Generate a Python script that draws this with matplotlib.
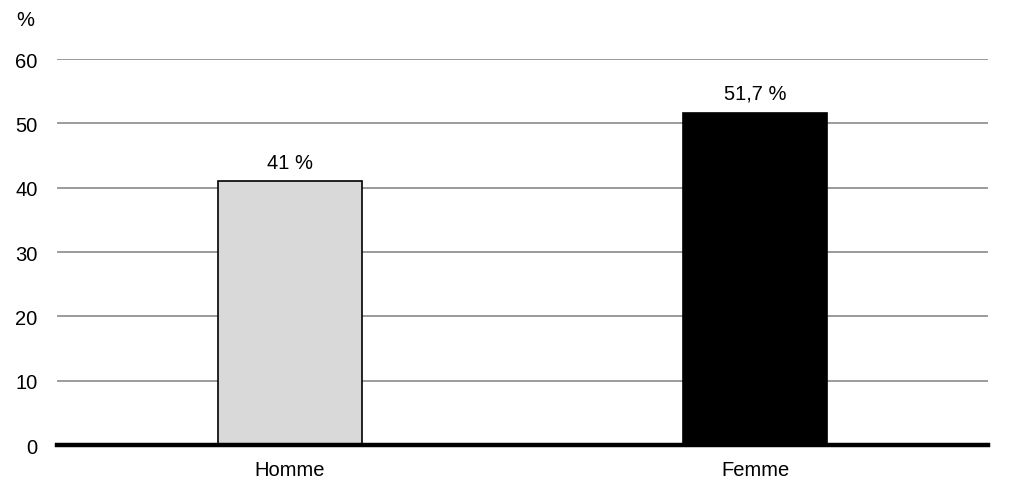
import matplotlib
matplotlib.use("Agg")
import matplotlib.pyplot as plt

# data
categories = ['Homme', 'Femme']
values = [41, 51.7]
labels = ['41 %', '51,7 %']
bar_colors = ['#d9d9d9', '#000000']
yticks = [0, 10, 20, 30, 40, 50, 60]

plt.rcParams['font.family'] = ['Liberation Sans', 'DejaVu Sans']
plt.rcParams['font.size'] = 14.5

fig = plt.figure(figsize=(10.1, 4.85), dpi=100)
ax = fig.add_axes([0.0564, 0.0804, 0.9216, 0.7956])

x = range(len(categories))
bars = ax.bar(x, values, width=0.31, color=bar_colors, edgecolor='black',
              linewidth=1.2, zorder=3)

for b, lab in zip(bars, labels):
    ax.text(b.get_x() + b.get_width() / 2, b.get_height() + 1.5, lab,
            ha='center', va='bottom')

ax.set_xlim(-0.5, 1.5)
ax.set_ylim(0, 60)
ax.set_yticks(yticks)
ax.set_xticks(list(x))
ax.set_xticklabels(categories)
ax.yaxis.grid(True, color='#808080', linewidth=1.1, zorder=0)
ax.set_axisbelow(True)

for s in ['top', 'right', 'left']:
    ax.spines[s].set_visible(False)
ax.spines['bottom'].set_linewidth(3.2)
ax.spines['bottom'].set_zorder(4)
ax.tick_params(axis='both', length=0)
ax.tick_params(axis='y', pad=14)
ax.tick_params(axis='x', pad=11)

fig.text(0.016, 0.957, '%', va='center', ha='left')

fig.savefig('out.png', dpi=100)
